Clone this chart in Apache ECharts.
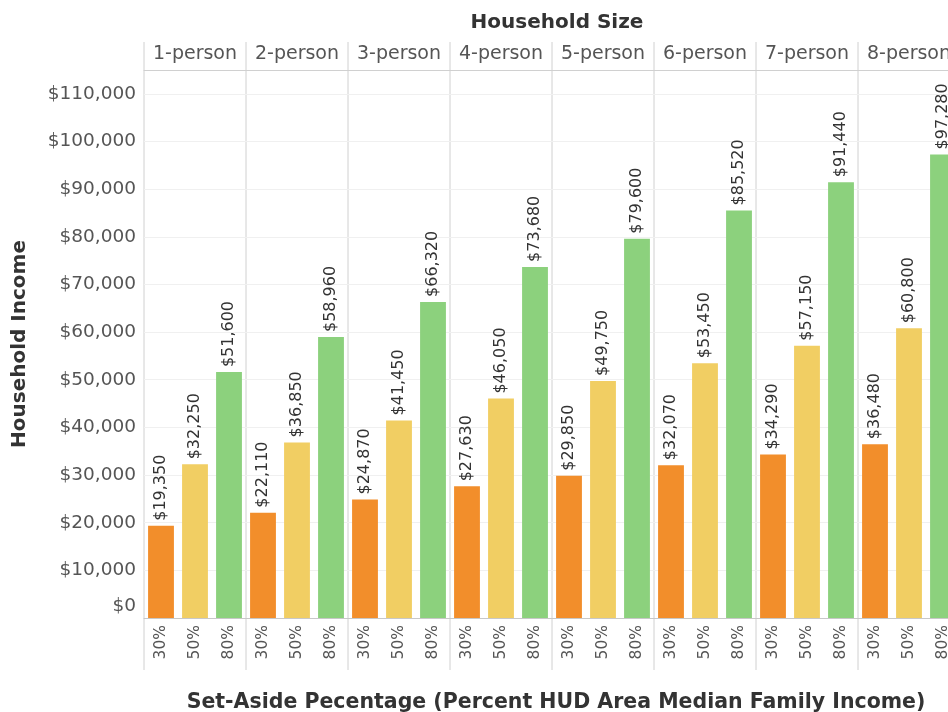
<!DOCTYPE html>
<html>
<head>
<meta charset="utf-8">
<script src="https://cdn.jsdelivr.net/npm/echarts@6/dist/echarts.min.js"></script>
<style>
  html, body { margin: 0; padding: 0; background: #fff; }
  #chart { width: 948px; height: 712px; }
</style>
</head>
<body>
<div id="chart"></div>
<script>
// 数据
var panels = ['1-person', '2-person', '3-person', '4-person', '5-person', '6-person', '7-person', '8-person'];
var rates = ['30%', '50%', '80%'];
var income30 = [19350, 22110, 24870, 27630, 29850, 32070, 34290, 36480];
var income50 = [32250, 36850, 41450, 46050, 49750, 53450, 57150, 60800];
var income80 = [51600, 58960, 66320, 73680, 79600, 85520, 91440, 97280];
var yTicks = [0, 10000, 20000, 30000, 40000, 50000, 60000, 70000, 80000, 90000, 100000, 110000];

var colors = ['#F28E2B', '#F1CE63', '#8CD17D'];
var font = 'DejaVu Sans';
var panelLeft = 144, panelW = 102, plotTop = 70, plotH = 548;

function money(v) {
    return '$' + Number(v).toLocaleString('en-US');
}

var myChart = echarts.init(document.getElementById('chart'));

var grid = [], xAxis = [], yAxis = [], series = [], graphic = [];

for (var i = 0; i < panels.length; i++) {
    var gl = panelLeft + panelW * i;
    // 最后一个面板超出画布，右侧被裁掉
    grid.push({left: gl, width: panelW, top: plotTop, height: plotH, outerBoundsMode: 'none'});

    // 底部 30/50/80
    xAxis.push({
        type: 'category',
        gridIndex: i,
        data: rates,
        axisLine: {lineStyle: {color: '#c8c8c8'}},
        axisTick: {show: false},
        axisLabel: {rotate: 90, margin: 7, color: '#555', fontSize: 15.5, fontFamily: font}
    });
    // 顶部面板标题
    xAxis.push({
        type: 'category',
        gridIndex: i,
        position: 'top',
        data: [panels[i]],
        axisLine: {show: true, lineStyle: {color: '#d0d0d0'}},
        axisTick: {show: false},
        axisLabel: {margin: 6, color: '#555', fontSize: 19, fontFamily: font}
    });

    yAxis.push({
        type: 'value',
        gridIndex: i,
        min: 0,
        max: 115000,
        interval: 10000,
        axisLine: {show: false},
        axisTick: {show: false},
        splitLine: {lineStyle: {color: '#f0f0f0'}},
        axisLabel: {
            show: i === 0,
            showMaxLabel: false,
            margin: 8,
            color: '#555',
            fontSize: 18.5,
            fontFamily: font,
            formatter: function (v) {
                if (v === 0) return '{z|$0}';
                return yTicks.indexOf(v) >= 0 ? money(v) : '';
            },
            rich: {
                z: {color: '#555', fontSize: 18.5, fontFamily: font, padding: [0, 0, 24, 0]}
            }
        },
        name: i === 0 ? 'Household Income' : '',
        nameLocation: 'middle',
        nameRotate: 90,
        nameGap: 114,
        nameTextStyle: {color: '#333', fontSize: 20, fontWeight: 'bold', fontFamily: font}
    });

    series.push({
        type: 'bar',
        xAxisIndex: i * 2,
        yAxisIndex: i,
        data: [income30[i], income50[i], income80[i]],
        barCategoryGap: '24%',
        itemStyle: {
            color: function (p) { return colors[p.dataIndex]; }
        },
        label: {
            show: true,
            position: 'top',
            rotate: 90,
            align: 'left',
            verticalAlign: 'middle',
            distance: 5,
            color: '#333',
            fontSize: 16,
            fontFamily: font,
            formatter: function (p) { return money(p.value); }
        }
    });

    // 面板分隔线
    graphic.push({
        type: 'line',
        shape: {x1: gl, y1: 42, x2: gl, y2: 670},
        style: {stroke: '#d0d0d0', lineWidth: 1}
    });
}

var option = {
    backgroundColor: '#fff',
    animation: false,
    title: [
        {
            text: 'Household Size',
            left: 552,
            top: 8,
            textAlign: 'center',
            textStyle: {color: '#333', fontSize: 20, fontWeight: 'bold', fontFamily: font}
        },
        {
            text: 'Set-Aside Pecentage (Percent HUD Area Median Family Income)',
            left: 551,
            top: 687,
            textAlign: 'center',
            textStyle: {color: '#333', fontSize: 20.5, fontWeight: 'bold', fontFamily: font}
        }
    ],
    grid: grid,
    xAxis: xAxis,
    yAxis: yAxis,
    series: series,
    graphic: graphic
};

myChart.setOption(option);
</script>
</body>
</html>
